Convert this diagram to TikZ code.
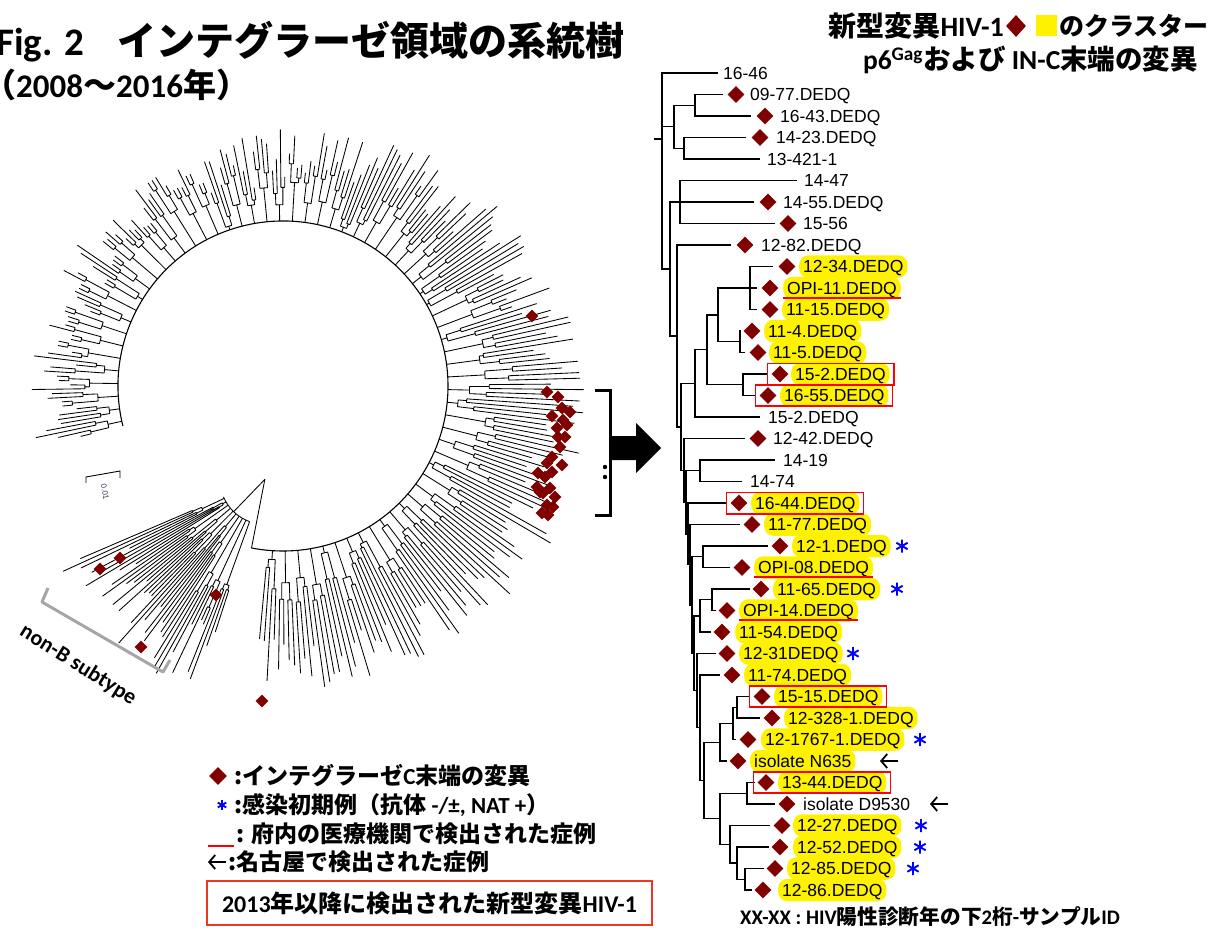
\documentclass[tikz,border=0pt]{standalone}
\usepackage{fontspec}
\setmainfont{Liberation Sans}
\newfontfamily\jpfont{Noto Sans CJK JP}
\newfontfamily\calfont{Carlito}
\usetikzlibrary{shapes.geometric,fit,arrows.meta}
\definecolor{dred}{RGB}{128,0,0}
\definecolor{legred}{RGB}{235,55,35}
\newcommand\tipadjust{0}
\newcommand\radtree[9]{%
 \begin{scope}[shift={(#1,#2)}]
 \foreach \g in {1,...,#5}{%
  \pgfmathsetmacro\aA{#3+(\g-1)*4*#4}%
  \pgfmathsetmacro\aB{\aA+#4}%
  \pgfmathsetmacro\aC{\aA+2*#4}%
  \pgfmathsetmacro\aD{\aA+3*#4}%
  \pgfmathsetmacro\aM{\aA+1.5*#4}%
  \pgfmathsetmacro\aP{\aA+0.5*#4}%
  \pgfmathsetmacro\aQ{\aA+2.5*#4}%
  \pgfmathsetmacro\adj{\tipadjust}%
  \pgfmathsetmacro\rG{#6+3+#7*rnd}%
  \pgfmathsetmacro\rP{\rG+4+26*rnd}%
  \pgfmathsetmacro\rQ{\rG+4+26*rnd}%
  \pgfmathsetmacro\tA{max(\rP+10,#8+#9*rnd+\adj)}%
  \pgfmathsetmacro\tB{max(\rP+10,#8+#9*rnd+\adj)}%
  \pgfmathsetmacro\tC{max(\rQ+10,#8+#9*rnd+\adj)}%
  \pgfmathsetmacro\tD{max(\rQ+10,#8+#9*rnd+\adj)}%
  \draw[ct] (\aM:#6) -- (\aM:\rG)
    (\aP:\rG) arc[start angle=\aP, end angle=\aQ, radius=\rG]
    (\aP:\rG) -- (\aP:\rP) (\aQ:\rG) -- (\aQ:\rQ)
    (\aA:\rP) arc[start angle=\aA, end angle=\aB, radius=\rP]
    (\aC:\rQ) arc[start angle=\aC, end angle=\aD, radius=\rQ]
    (\aA:\rP) -- (\aA:\tA) (\aB:\rP) -- (\aB:\tB)
    (\aC:\rQ) -- (\aC:\tC) (\aD:\rQ) -- (\aD:\tD);
 }
 \end{scope}}
\newcommand\dleaf[7]{\coordinate (e#1) at (#3,#2); \node[dmd] (d#1) at (#4,#2) {}; \node[#6] (t#1) at (#5-4,#2) {#7};}
\newcommand\pleaf[5]{\coordinate (e#1) at (#3,#2); \node[lab] (t#1) at (#4-4,#2) {#5};}
\begin{document}
\begin{tikzpicture}[x=1pt,y=-1pt,
  tl/.style={line width=1.3pt},
  ct/.style={line width=0.85pt},
  dmd/.style={diamond, fill=dred, inner sep=0pt, minimum width=17pt, minimum height=17pt},
  cdmd/.style={diamond, fill=dred, inner sep=0pt, minimum width=13pt, minimum height=13pt},
  lab/.style={anchor=west, font=\fontsize{17.5}{18}\selectfont, inner xsep=4pt, inner ysep=2.5pt, text height=15pt, text depth=2.5pt},
  hl/.style={lab, fill=yellow, rounded corners=9pt},
  rbox/.style={draw=red, line width=1.6pt, inner xsep=4pt, inner ysep=2pt},
  ul/.style={red, line width=1.6pt},
  larr/.style={-{Straight Barb[length=6pt,width=14pt]}, line width=1.8pt},
  bstar/.pic={\draw[blue, line width=1.9pt] (90:6.5)--(270:6.5) (30:6.5)--(210:6.5) (150:6.5)--(330:6.5);},
  jpt/.style={anchor=west, inner sep=0pt, font=\jpfont\bfseries\fontsize{23}{26}\selectfont},
]
\useasboundingbox (0,0) rectangle (1207,928);
\pgfmathsetseed{4242}

% ---------- titles ----------
\node[anchor=west, inner sep=0pt, font=\calfont\bfseries\fontsize{39}{44}\selectfont] (title) at (-4,42) {Fig. 2\hspace{33pt}{\jpfont インテグラーゼ領域の系統樹}};
\node[anchor=west, inner sep=0pt, font=\calfont\bfseries\fontsize{33}{36}\selectfont] (subtitle) at (-17,85) {{\jpfont （}2008{\jpfont ～}2016{\jpfont 年）}};
\node[anchor=east, inner sep=0pt, font=\jpfont\bfseries\fontsize{28}{32}\selectfont] (h1a) at (1004,26) {新型変異{\calfont HIV-1}};
\node[dmd, minimum width=20pt, minimum height=22pt] (h1d) at (1016,26) {};
\node[fill=yellow, minimum size=21pt, inner sep=0pt] (h1y) at (1046.5,26) {};
\node[anchor=west, inner sep=0pt, font=\jpfont\bfseries\fontsize{25}{30}\selectfont] (h1b) at (1059,26) {のクラスター};
\node[anchor=east, inner sep=0pt, font=\jpfont\bfseries\fontsize{27.5}{31}\selectfont] (h2) at (1198,60) {{\calfont p6\textsuperscript{Gag}}および {\calfont IN-C}末端の変異};

% ---------- circular tree ----------
\begin{scope}[shift={(283,386)}]
  \draw[line width=1.1pt] (166:165) arc[start angle=166, end angle=461, radius=165];
  \draw[ct] (461:165) -- (461:95);
\end{scope}
\renewcommand\tipadjust{22*cos(\aM)+22*sin(\aM)}
\radtree{283}{386}{166}{1.1}{66}{165}{38}{225}{55}
\renewcommand\tipadjust{0}
\begin{scope}[shift={(264.9,479.3)}]
  \draw[ct] (110:45) arc[start angle=110, end angle=157, radius=45];
  \draw[ct] (0,0) -- (134:45);
\end{scope}
\radtree{264.9}{479.3}{108}{1.25}{10}{45}{75}{150}{75}
\foreach \x/\y [count=\k] in {532/316,547/392,558/397,562/408,570/412,552/416,563/420,557/428,567/425,558/437,565/437,560/447,552/457,547/463,562/465,538/473,552/472,545/477,537/487,550/488,543/493,555/497,547/505,553/507,542/513,548/515,540/492,100/569,120/558,216/595,141/647,262/701}
  \node[cdmd] (cd\k) at (\x,\y) {};
% scale bar
\coordinate (sb0) at (86,483); \coordinate (sb1) at (86,477); \coordinate (sb2) at (120,471); \coordinate (sb3) at (120,478);
\draw[line width=0.9pt] (sb0) -- (sb1) -- (sb2) -- (sb3);
\node[rotate=-80, font=\fontsize{8}{9}\selectfont, text={rgb,255:red,60;green,60;blue,100}] (sbt) at (105,492) {0.01};
% non-B bracket
\coordinate (nb0) at (48,588); \coordinate (nb1) at (42,602); \coordinate (nb2) at (163,672); \coordinate (nb3) at (170,660);
\draw[gray!70, line width=3pt, line join=round] (nb0) -- (nb1) -- (nb2) -- (nb3);
\node[rotate=-32, font=\calfont\bfseries\fontsize{22}{24}\selectfont] (nbt) at (78,665) {non-B subtype};

% bracket and block arrow
\coordinate (bk0) at (595,390); \coordinate (bk1) at (610,390); \coordinate (bk2) at (610,515); \coordinate (bk3) at (595,515);
\draw[line width=3pt] (bk0) -- (bk1) -- (bk2) -- (bk3);
\fill (605,467) circle[radius=2.2pt] (605,477) circle[radius=2.2pt];
\fill (611,436) -- (636,436) -- (636,423) -- (661,448) -- (636,473) -- (636,460) -- (611,460) -- cycle;

% ---------- rectangular tree ----------
\coordinate (root0) at (654,139);
\coordinate (R) at (662,139);
\coordinate (A) at (674,126.75);
\coordinate (A1) at (695,105.25);
\coordinate (A2) at (684,148.25);
\coordinate (C1) at (670,269);
\coordinate (B) at (680,202);
\coordinate (C2) at (677,336);
\coordinate (C3) at (681,426.9);
\coordinate (G) at (695,383.4);
\coordinate (H) at (707,349.8);
\coordinate (I) at (718,314.9);
\coordinate (K) at (750,288);
\coordinate (M) at (740,341.75);
\coordinate (J) at (743,384.75);
\coordinate (C4) at (684,470.4);
\coordinate (C5) at (686,502.3);
\coordinate (P) at (700,470.75);
\coordinate (C6) at (688,533.9);
\coordinate (C7) at (690,564.8);
\coordinate (C8) at (692,605);
\coordinate (U1) at (703,556.75);
\coordinate (C9) at (694,653.3);
\coordinate (U2) at (700,615.9);
\coordinate (U3) at (712,599.75);
\coordinate (C10) at (697,690.6);
\coordinate (C11) at (700,727.75);
\coordinate (C12) at (704,780.5);
\coordinate (V2) at (720,742.2);
\coordinate (V3) at (733,723.4);
\coordinate (V4) at (737,707.25);
\coordinate (W0) at (720,818.8);
\coordinate (W1) at (747,793.25);
\coordinate (W2) at (730,844.3);
\coordinate (W3) at (737,863.1);
\coordinate (W4) at (745,879.25);

\pleaf{1}{73}{718}{723}{16-46}
\dleaf{2}{94.5}{723}{736}{750}{lab}{09-77.DEDQ}
\dleaf{3}{116}{751}{765}{780}{lab}{16-43.DEDQ}
\dleaf{4}{137.5}{746}{760}{776}{lab}{14-23.DEDQ}
\pleaf{5}{159}{760}{767}{13-421-1}
\pleaf{6}{180.5}{797}{804}{14-47}
\dleaf{7}{202}{754}{768}{783}{lab}{14-55.DEDQ}
\dleaf{8}{223.5}{775}{788}{803}{lab}{15-56}
\dleaf{9}{245}{731}{745}{761}{lab}{12-82.DEDQ}
\dleaf{10}{266.5}{773}{787}{803}{hl}{12-34.DEDQ}
\dleaf{11}{288}{757}{770}{787}{hl}{OPI-11.DEDQ}
\dleaf{12}{309.5}{757}{770}{786}{hl}{11-15.DEDQ}
\dleaf{13}{331}{741}{752}{768}{hl}{11-4.DEDQ}
\dleaf{14}{352.5}{745}{758}{773}{hl}{11-5.DEDQ}
\dleaf{15}{374}{767}{780}{795}{hl}{15-2.DEDQ}
\dleaf{16}{395.5}{755}{768}{784}{hl}{16-55.DEDQ}
\pleaf{17}{417}{760}{768}{15-2.DEDQ}
\dleaf{18}{438.5}{745}{758}{773}{lab}{12-42.DEDQ}
\pleaf{19}{460}{775}{783}{14-19}
\pleaf{20}{481.5}{742}{750}{14-74}
\dleaf{21}{503}{726}{739}{755}{hl}{16-44.DEDQ}
\dleaf{22}{524.5}{740}{752}{768}{hl}{11-77.DEDQ}
\dleaf{23}{546}{768}{780}{796}{hl}{12-1.DEDQ}
\dleaf{24}{567.5}{730}{742}{758}{hl}{OPI-08.DEDQ}
\dleaf{25}{589}{750}{761}{777}{hl}{11-65.DEDQ}
\dleaf{26}{610.5}{716}{727}{743}{hl}{OPI-14.DEDQ}
\dleaf{27}{632}{711}{722}{739}{hl}{11-54.DEDQ}
\dleaf{28}{653.5}{716}{727}{743}{hl}{12-31DEDQ}
\dleaf{29}{675}{720}{732}{748}{hl}{11-74.DEDQ}
\dleaf{30}{696.5}{750}{762}{778}{hl}{15-15.DEDQ}
\dleaf{31}{718}{760}{772}{788}{hl}{12-328-1.DEDQ}
\dleaf{32}{739.5}{736}{748}{765}{hl}{12-1767-1.DEDQ}
\dleaf{33}{761}{727}{738}{754}{hl}{isolate N635}
\dleaf{34}{782.5}{755}{766}{782}{hl}{13-44.DEDQ}
\dleaf{35}{804}{775}{787}{803}{lab}{isolate D9530}
\dleaf{36}{825.5}{770}{782}{797}{hl}{12-27.DEDQ}
\dleaf{37}{847}{769}{780}{797}{hl}{12-52.DEDQ}
\dleaf{38}{868.5}{764}{775}{791}{hl}{12-85.DEDQ}
\dleaf{39}{890}{752}{763}{782}{hl}{12-86.DEDQ}

\foreach \p/\c in {root0/R, R/e1, R/A, R/C1, A/A1, A/A2, A1/e2, A1/e3, A2/e4, A2/e5, C1/B, C1/C2, B/e6, B/e7, B/e8, C2/e9, C2/C3, C3/G, C3/C4, G/H, G/e17, H/I, H/J, I/K, I/M, K/e10, K/e11, K/e12, M/e13, M/e14, J/e15, J/e16, C4/e18, C4/C5, C5/P, C5/C6, P/e19, P/e20, C6/e21, C6/C7, C7/e22, C7/C8, C8/U1, C8/C9, U1/e23, U1/e24, C9/U2, C9/C10, U2/U3, U2/e27, U3/e25, U3/e26, C10/e28, C10/C11, C11/e29, C11/C12, C12/V2, C12/W0, V2/V3, V2/e33, V3/V4, V3/e32, V4/e30, V4/e31, W0/W1, W0/W2, W1/e34, W1/e35, W2/e36, W2/W3, W3/e37, W3/W4, W4/e38, W4/e39}
  \draw[tl] (\p) |- (\c);

% red boxes
\foreach \i in {15,16,21,30,34}
  \node[rbox, fit=(d\i)(t\i.east)] (b\i) {};
% red underlines
\foreach \i in {11,24,26}
  \draw[ul] ([yshift=-3.5pt]t\i.base west) -- ([yshift=-3.5pt]t\i.base east);
% blue stars
\foreach \x/\y [count=\k] in {902/546,897/589,853/653.5,920/739.5,921/825.5,920/847,913/868.5}
  \pic (st\k) at (\x,\y) {bstar};
% Nagoya arrows
\coordinate (a33t) at (898,761); \coordinate (a33h) at (880,761);
\coordinate (a35t) at (948,804); \coordinate (a35h) at (930,804);
\draw[larr] (a33t) -- (a33h);
\draw[larr] (a35t) -- (a35h);

% ---------- legend ----------
\node[dmd, minimum width=18pt, minimum height=18pt] (lgd) at (218,776) {};
\node[jpt] (lg1) at (234,776) {:インテグラーゼ{\calfont C}末端の変異};
\pic[scale=0.75] (lgs) at (222,805) {bstar};
\node[jpt] (lg2) at (234,805) {:感染初期例（抗体 {\calfont -/±, NAT +}）};
\coordinate (u0) at (208,846); \coordinate (u1) at (234,846);
\draw[ul, line width=2pt] (u0) -- (u1);
\node[jpt] (lg3) at (236,834) {: 府内の医療機関で検出された症例};
\coordinate (la0) at (226,862); \coordinate (la1) at (208,862);
\draw[larr] (la0) -- (la1);
\node[jpt] (lg4) at (228,862) {:名古屋で検出された症例};
\node[draw=legred, line width=2pt, minimum width=445pt, minimum height=44pt, inner sep=0pt] (lgbox) at (429.5,903) {};
\node[inner sep=0pt, font=\jpfont\bfseries\fontsize{24}{27}\selectfont] (lg5) at (lgbox.center) {{\calfont 2013}年以降に検出された新型変異{\calfont HIV-1}};

\node[anchor=west, inner sep=0pt, font=\jpfont\bfseries\fontsize{20.7}{22}\selectfont] (foot) at (740,917) {{\calfont XX-XX : HIV}陽性診断年の下{\calfont 2}桁{\calfont -}サンプル{\calfont ID}};
\end{tikzpicture}
\end{document}
